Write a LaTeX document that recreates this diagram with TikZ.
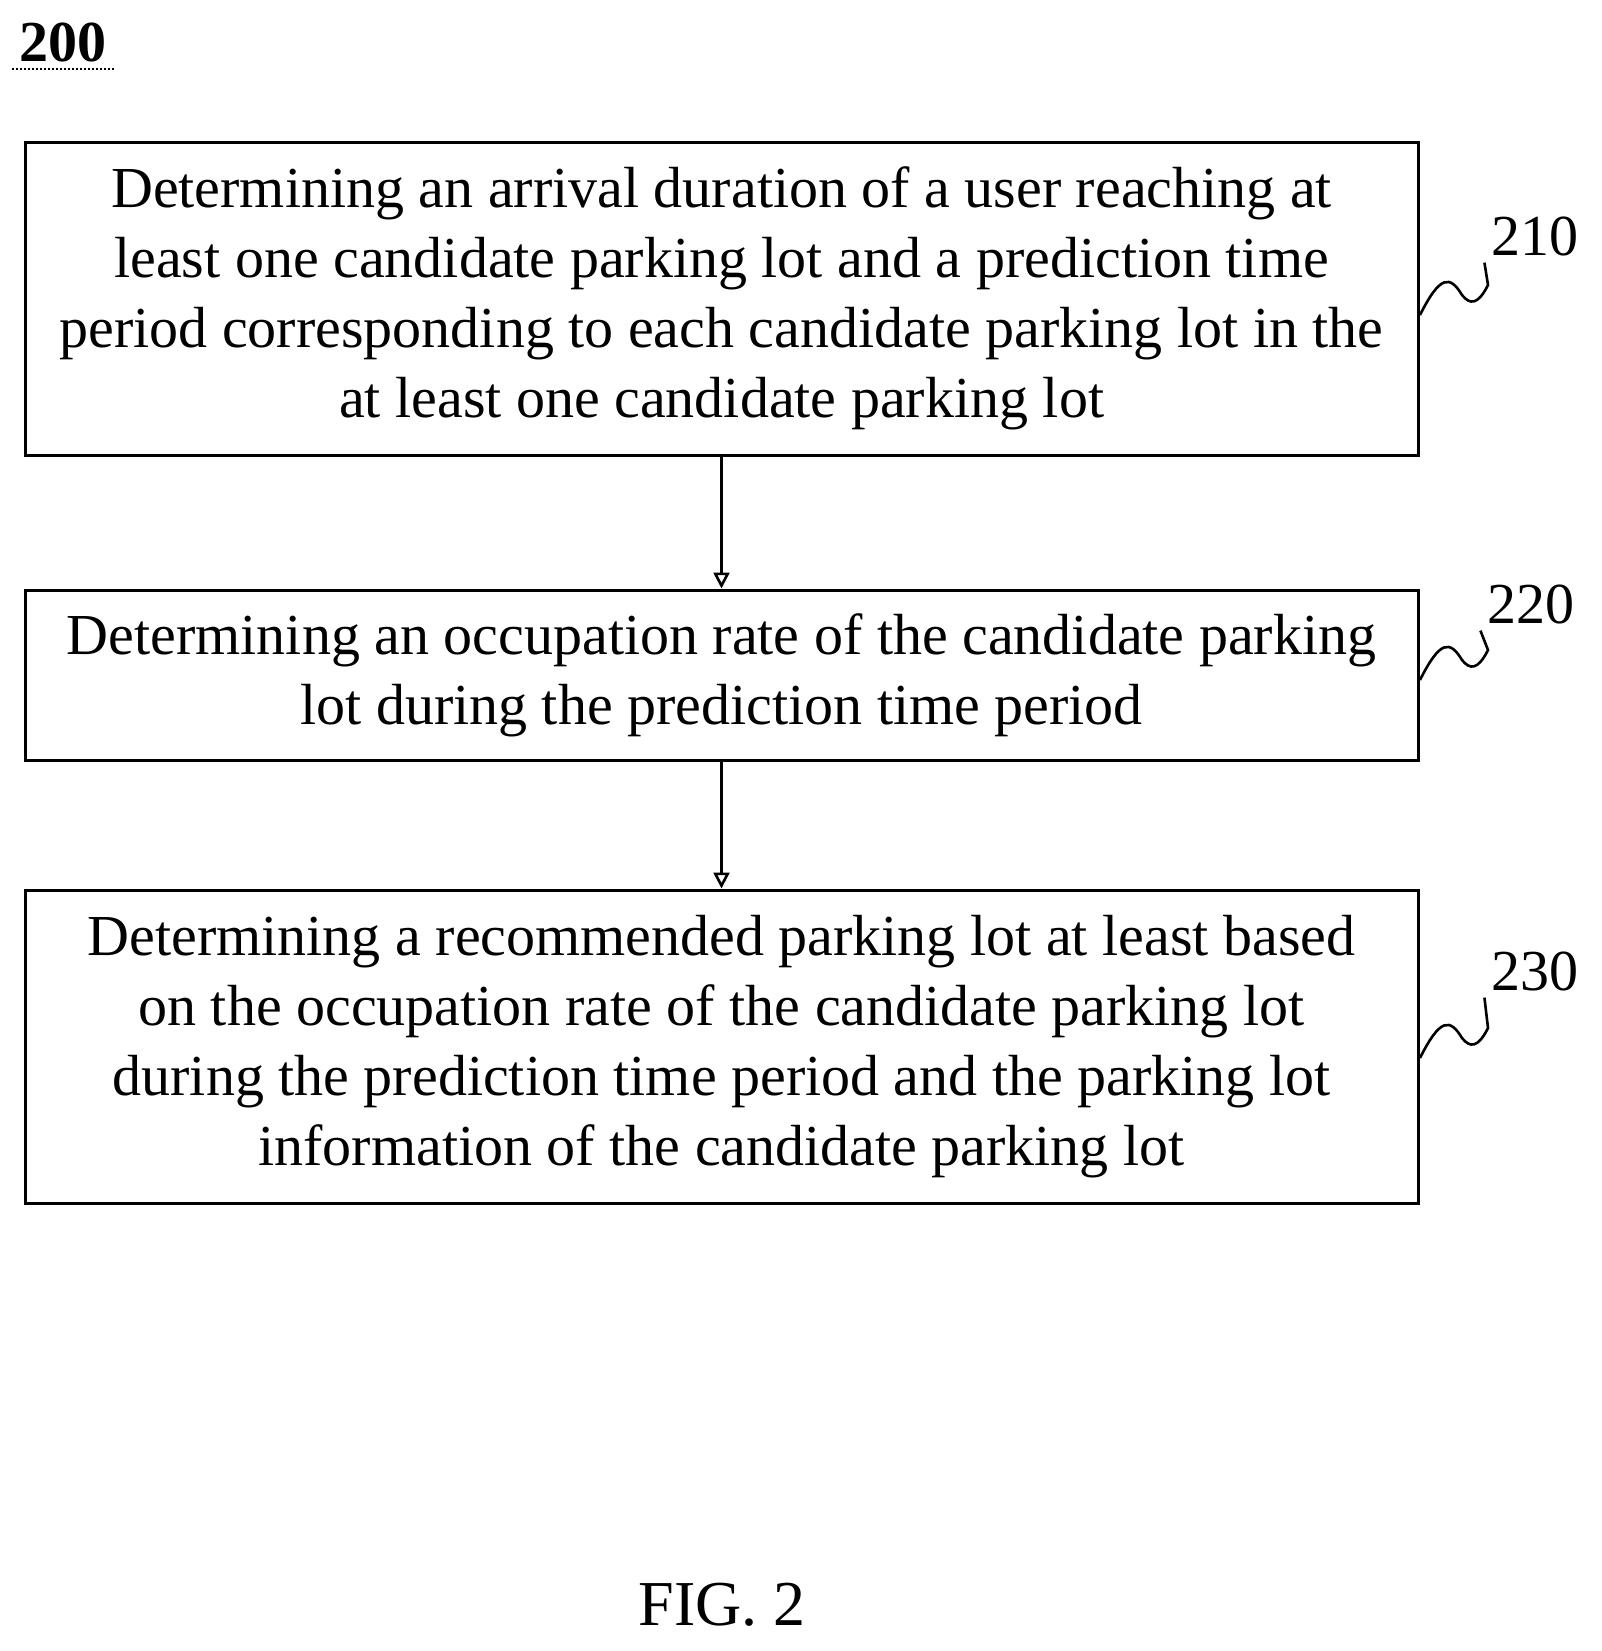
\documentclass[tikz,border=0pt]{standalone}
\usepackage{fontspec}
\setmainfont{Liberation Serif}
\usetikzlibrary{arrows.meta}
\tikzset{
  stepbox/.style={draw, line width=1.5pt, minimum width=696.5pt, align=center,
    font=\fontsize{29}{35}\selectfont, inner sep=0pt},
  tag/.style={font=\fontsize{29}{35}\selectfont},
  squig/.style={line width=1.3pt},
}
\begin{document}
\begin{tikzpicture}[x=0.5pt, y=-0.5pt]
  \useasboundingbox (0,0) rectangle (1602,1651);

  % numero de figure
  \node[tag, font=\bfseries\fontsize{29}{35}\selectfont] (fig) at (63,42) {200};
  \draw[line width=1pt, densely dotted] (fig.south west) -- (fig.south east);

  % etapes
  \node[stepbox, minimum height=156.5pt] (s210) at (721.5,298.5) {Determining an arrival duration of a user reaching at\\
    least one candidate parking lot and a prediction time\\
    period corresponding to each candidate parking lot in the\\
    at least one candidate parking lot};
  \node[stepbox, minimum height=85pt] (s220) at (721.5,675) {Determining an occupation rate of the candidate parking\\
    lot during the prediction time period};
  \node[stepbox, minimum height=156.5pt] (s230) at (721.5,1046.5) {Determining a recommended parking lot at least based\\
    on the occupation rate of the candidate parking lot\\
    during the prediction time period and the parking lot\\
    information of the candidate parking lot};

  % fleches
  \draw[line width=1.3pt, -{Triangle[open, length=8pt, width=8pt]}] (s210) -- (s220);
  \draw[line width=1.3pt, -{Triangle[open, length=8pt, width=8pt]}] (s220) -- (s230);

  % reperes
  \node[tag] (t210) at (1535,236) {210};
  \node[tag] (t220) at (1531,604) {220};
  \node[tag] (t230) at (1535,971) {230};
  \foreach \n/\y in {210/315, 220/680, 230/1058} {
    \draw[squig] (1420,\y) .. controls (1440,\y-40) and (1450,\y-40) .. (1462,\y-20)
      .. controls (1470,\y-10) and (1478,\y-10) .. (1488,\y-30) -- (t\n.south west);
  }

  % legende
  \node[tag, font=\fontsize{32}{38}\selectfont] (cap) at (722,1605) {FIG. 2};
\end{tikzpicture}
\end{document}
